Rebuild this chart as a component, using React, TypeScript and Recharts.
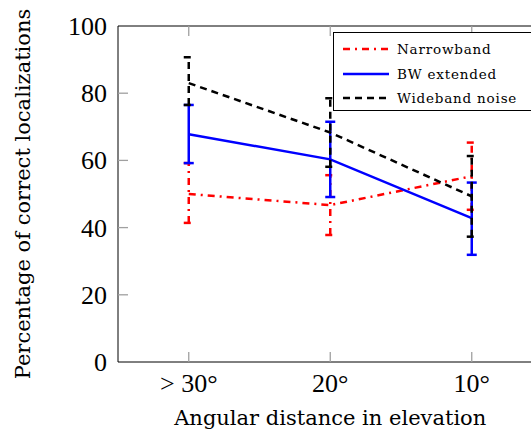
import React from 'react';
import { ComposedChart, Line, XAxis, YAxis, ErrorBar, Legend } from 'recharts';

const categories = ['> 30°', '20°', '10°'];
const yTicks = [0, 20, 40, 60, 80, 100];

const narrowband = [50, 46.7, 55.3];
const narrowbandErr = [[8.6, 9.2], [8.9, 8.9], [10, 10]];
const bwExtended = [67.8, 60.3, 42.8];
const bwExtendedErr = [[8.6, 8.7], [11.2, 11.2], [10.9, 10.6]];
const wideband = [83, 68.3, 49.3];
const widebandErr = [[6.5, 7.7], [10.2, 10.2], [12, 12]];

const data = categories.map((c, i) => ({
  x: i,
  nb: narrowband[i],
  nbErr: narrowbandErr[i],
  bw: bwExtended[i],
  bwErr: bwExtendedErr[i],
  wb: wideband[i],
  wbErr: widebandErr[i],
}));

const legendOrder = ['nb', 'bw', 'wb'];
const dashes: Record<string, string | undefined> = {
  nb: '7 5 2 5',
  bw: undefined,
  wb: '7 5',
};

const TICK = '#a0a0a0';
const TICK_FONT = 'Liberation Serif';
const TEXT_FONT = "'DejaVu Serif', 'Liberation Serif', serif";

const YTick = (props: any) => {
  const { x, y, payload } = props;
  const edge = payload.value === 0 || payload.value === 100;
  return (
    <g>
      {!edge && <line x1={x} x2={x + 10} y1={y} y2={y} stroke={TICK} strokeWidth={1.3} />}
      <text x={x - 11} y={y} dy={9} textAnchor="end" fontFamily={TICK_FONT} fontSize={26} fill="#000">
        {payload.value}
      </text>
    </g>
  );
};

const XTick = (props: any) => {
  const { x, y, payload } = props;
  return (
    <g>
      <line x1={x} x2={x} y1={y} y2={y - 10} stroke={TICK} strokeWidth={1.3} />
      <text x={x} y={y + 30} textAnchor="middle" fontFamily={TICK_FONT} fontSize={26} fill="#000">
        {categories[payload.value]}
      </text>
    </g>
  );
};

const TopTick = (props: any) => {
  const { x, y } = props;
  return <line x1={x} x2={x} y1={y} y2={y + 10} stroke={TICK} strokeWidth={1.3} />;
};

const LegendBox = (props: any) => {
  const items = [...(props.payload || [])].sort(
    (a: any, b: any) => legendOrder.indexOf(a.dataKey) - legendOrder.indexOf(b.dataKey)
  );
  return (
    <div
      style={{
        border: '1px solid #000',
        background: '#fff',
        width: 210,
        height: 79,
        boxSizing: 'border-box',
        position: 'relative',
        fontFamily: TEXT_FONT,
        fontSize: 13.5,
        letterSpacing: 0.8,
      }}
    >
      {items.map((it: any, i: number) => (
        <div
          key={it.dataKey}
          style={{ position: 'absolute', left: 9, top: 16 + i * 24.5 - 9, height: 18, display: 'flex', alignItems: 'center' }}
        >
          <svg width={46} height={4}>
            <line x1={0} x2={46} y1={2} y2={2} stroke={it.color} strokeWidth={2.5} strokeDasharray={dashes[it.dataKey]} />
          </svg>
          <span style={{ marginLeft: 8, lineHeight: '18px' }}>{it.value}</span>
        </div>
      ))}
    </div>
  );
};

export default function App() {
  return (
    <div style={{ position: 'fixed', left: 0, top: 0, width: 531, height: 432, overflow: 'hidden', background: '#fff' }}>
      <ComposedChart width={560} height={432} data={data} margin={{ top: 25, right: 17.5, bottom: 69, left: 117 }}>
        <XAxis
          dataKey="x"
          type="number"
          domain={[-0.5, 2.5]}
          ticks={[0, 1, 2]}
          height={1}
          tickSize={0}
          tickMargin={0}
          tick={<XTick />}
          axisLine={{ stroke: '#000', strokeWidth: 1 }}
          tickLine={false}
          interval={0}
          label={{
            content: (p: any) => {
              const vb = p.viewBox;
              return (
                <text x={vb.x + vb.width / 2} y={425} textAnchor="middle" fontFamily={TEXT_FONT} fontSize={21} fill="#000">
                  Angular distance in elevation
                </text>
              );
            },
          }}
        />
        <XAxis
          xAxisId="top"
          dataKey="x"
          type="number"
          domain={[-0.5, 2.5]}
          ticks={[0, 1, 2]}
          orientation="top"
          height={1}
          tickSize={0}
          tickMargin={0}
          tick={<TopTick />}
          axisLine={{ stroke: '#000', strokeWidth: 1 }}
          tickLine={false}
          interval={0}
        />
        <YAxis
          width={1}
          domain={[0, 100]}
          ticks={yTicks}
          tickSize={0}
          tickMargin={0}
          tick={<YTick />}
          axisLine={{ stroke: '#000', strokeWidth: 1 }}
          tickLine={false}
          label={{
            content: (p: any) => {
              const vb = p.viewBox;
              const cy = vb.y + vb.height / 2;
              return (
                <text x={30} y={cy} transform={`rotate(-90 30 ${cy})`} textAnchor="middle" fontFamily={TEXT_FONT} fontSize={21} fill="#000">
                  Percentage of correct localizations
                </text>
              );
            },
          }}
        />
        <Legend
          layout="vertical"
          align="center"
          verticalAlign="middle"
          content={<LegendBox />}
          wrapperStyle={{ left: 333, top: 32, width: 210, height: 79 }}
        />
        <Line
          dataKey="nb"
          name="Narrowband"
          stroke="#ff0000"
          strokeWidth={2.5}
          strokeDasharray={dashes.nb}
          dot={false}
          isAnimationActive={false}
        >
          <ErrorBar dataKey="nbErr" width={5} stroke="#ff0000" strokeWidth={2.5} strokeDasharray={dashes.nb} />
        </Line>
        <Line dataKey="bw" name="BW extended" stroke="#0000ff" strokeWidth={2.5} dot={false} isAnimationActive={false}>
          <ErrorBar dataKey="bwErr" width={5} stroke="#0000ff" strokeWidth={2.5} />
        </Line>
        <Line
          dataKey="wb"
          name="Wideband noise"
          stroke="#000000"
          strokeWidth={2.5}
          strokeDasharray={dashes.wb}
          dot={false}
          isAnimationActive={false}
        >
          <ErrorBar dataKey="wbErr" width={5} stroke="#000000" strokeWidth={2.5} strokeDasharray={dashes.wb} />
        </Line>
      </ComposedChart>
    </div>
  );
}
